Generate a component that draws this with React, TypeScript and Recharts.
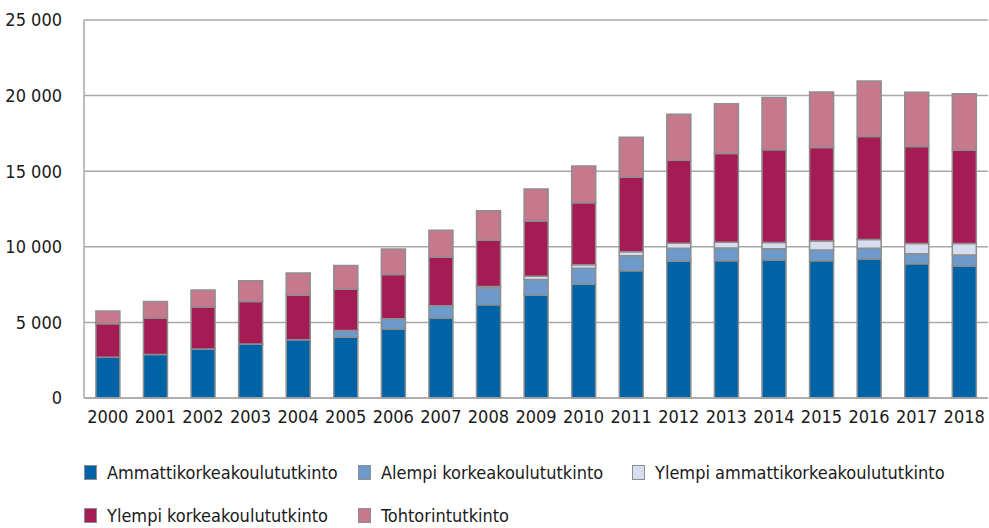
import { useEffect } from 'react'
import { BarChart, Bar, XAxis, YAxis, CartesianGrid } from 'recharts'

const FONT = '"DejaVu Sans Condensed", "Liberation Sans", sans-serif'
const STROKE = '#8e8e8e'

const years = [
  '2000', '2001', '2002', '2003', '2004', '2005', '2006', '2007', '2008', '2009',
  '2010', '2011', '2012', '2013', '2014', '2015', '2016', '2017', '2018',
]
const amk = [2690, 2870, 3240, 3570, 3860, 4010, 4560, 5290, 6170, 6790, 7520, 8420, 9040, 9080, 9120, 9080, 9190, 8880, 8730]
const alempi = [0, 0, 0, 0, 0, 460, 680, 815, 1100, 1040, 1060, 990, 860, 840, 750, 710, 710, 660, 730]
const ylempiAmk = [0, 0, 0, 0, 0, 0, 0, 0, 110, 220, 240, 265, 330, 375, 420, 590, 590, 680, 750]
const ylempiKk = [2220, 2420, 2780, 2820, 2930, 2730, 2930, 3200, 3060, 3660, 4100, 4920, 5490, 5880, 6130, 6190, 6810, 6410, 6170]
const tohtori = [840, 1100, 1120, 1370, 1480, 1570, 1680, 1790, 1940, 2120, 2420, 2650, 3040, 3280, 3460, 3660, 3660, 3590, 3750]
const yTicks = [0, 5000, 10000, 15000, 20000, 25000]

const series = [
  { key: 'amk', name: 'Ammattikorkeakoulututkinto', color: '#0063a6' },
  { key: 'alempi', name: 'Alempi korkeakoulututkinto', color: '#6d99cb' },
  { key: 'ylempiAmk', name: 'Ylempi ammattikorkeakoulututkinto', color: '#d6ddee' },
  { key: 'ylempiKk', name: 'Ylempi korkeakoulututkinto', color: '#a51c54' },
  { key: 'tohtori', name: 'Tohtorintutkinto', color: '#c6788c' },
]

const data = years.map((year, i) => ({
  year,
  amk: amk[i],
  alempi: alempi[i],
  ylempiAmk: ylempiAmk[i],
  ylempiKk: ylempiKk[i],
  tohtori: tohtori[i],
}))

const formatThousands = (v: number) =>
  v === 0 ? '0' : `${Math.floor(v / 1000)} ${String(v % 1000).padStart(3, '0')}`

const tick = { fill: '#1a1a1a', fontSize: 18, fontFamily: FONT }

export default function App() {
  useEffect(() => {
    document.body.style.margin = '0'
  }, [])

  return (
    <div style={{ position: 'relative', width: 989, height: 528, background: '#fff', fontFamily: FONT }}>
      <BarChart
        width={989}
        height={440}
        data={data}
        barCategoryGap="25%"
        margin={{ top: 20, right: 1, bottom: 10, left: 0 }}
      >
        <CartesianGrid vertical={false} stroke="#a8a8a8" strokeWidth={1.5} />
        <XAxis
          dataKey="year"
          axisLine={{ stroke: '#a8a8a8', strokeWidth: 1.5 }}
          tickLine={false}
          tickSize={0}
          tickMargin={12}
          height={32}
          tick={tick}
          interval={0}
        />
        <YAxis
          domain={[0, 25000]}
          ticks={yTicks}
          width={84}
          axisLine={{ stroke: '#a8a8a8', strokeWidth: 1.5 }}
          tickLine={false}
          tickSize={0}
          tickMargin={22}
          tickFormatter={v => formatThousands(Number(v))}
          tick={tick}
        />
        {series.map(s => (
          <Bar
            key={s.key}
            dataKey={s.key}
            name={s.name}
            stackId="a"
            fill={s.color}
            stroke={STROKE}
            strokeWidth={1.5}
            isAnimationActive={false}
          />
        ))}
      </BarChart>
      {series.map((s, i) => {
        const row = i < 3 ? 0 : 1
        const col = i < 3 ? i : i - 3
        return (
          <div
            key={s.key}
            style={{
              position: 'absolute',
              left: 84 + col * 274,
              top: 462 + row * 43,
              display: 'flex',
              alignItems: 'center',
              fontSize: 18,
              color: '#1a1a1a',
              whiteSpace: 'nowrap',
            }}
          >
            <span
              style={{
                display: 'inline-block',
                width: 11,
                height: 13,
                background: s.color,
                border: `1px solid ${STROKE}`,
                marginRight: 10,
              }}
            />
            {s.name}
          </div>
        )
      })}
    </div>
  )
}
